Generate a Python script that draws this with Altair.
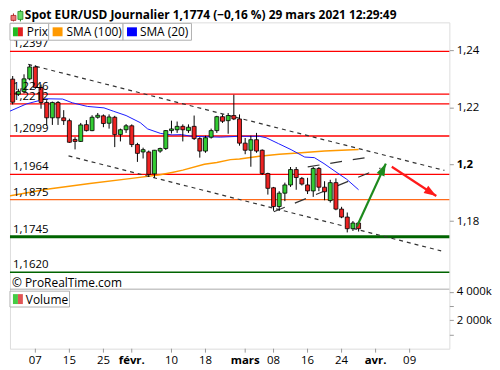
import math
import altair as alt
import pandas as pd

FONT = "Open Sans"

# ---------------- data (trading-day index, 0 = 4 Jan 2021) ----------------
day_idx = list(range(-1, 61))
opens = [1.2299, 1.2246, 1.2255, 1.2300, 1.2342, 1.2270, 1.2217, 1.2163, 1.2217, 1.2163,
         1.2153, 1.2087, 1.2080, 1.2139, 1.2118, 1.2165, 1.2170, 1.2144, 1.2165, 1.2104,
         1.2121, 1.2135, 1.2069, 1.2043, 1.2043, 1.1966, 1.2046, 1.2055, 1.2118, 1.2121,
         1.2133, 1.2118, 1.2133, 1.2090, 1.2046, 1.2095, 1.2118, 1.2167, 1.2153, 1.2171,
         1.2159, 1.2074, 1.2049, 1.2086, 1.2049, 1.1967, 1.1917, 1.1851, 1.1898, 1.1927,
         1.1981, 1.1950, 1.1927, 1.1906, 1.1985, 1.1919, 1.1872, 1.1935, 1.1842, 1.1814,
         1.1773, 1.1793]
highs = [1.2310, 1.2265, 1.2316, 1.2350, 1.2348, 1.2280, 1.2225, 1.2220, 1.2222, 1.2190,
         1.2160, 1.2095, 1.2145, 1.2155, 1.2172, 1.2180, 1.2175, 1.2175, 1.2170, 1.2125,
         1.2141, 1.2140, 1.2075, 1.2058, 1.2048, 1.2050, 1.2058, 1.2120, 1.2153, 1.2150,
         1.2140, 1.2140, 1.2171, 1.2095, 1.2100, 1.2125, 1.2170, 1.2175, 1.2180, 1.2244,
         1.2175, 1.2092, 1.2100, 1.2110, 1.2052, 1.1970, 1.1920, 1.1905, 1.1935, 1.1990,
         1.1990, 1.1955, 1.1952, 1.1990, 1.1990, 1.1940, 1.1945, 1.1950, 1.1850, 1.1830,
         1.1800, 1.1797]
lows = [1.2210, 1.2240, 1.2250, 1.2295, 1.2265, 1.2195, 1.2135, 1.2138, 1.2138, 1.2138,
        1.2075, 1.2052, 1.2078, 1.2115, 1.2116, 1.2160, 1.2130, 1.2125, 1.2060, 1.2080,
        1.2110, 1.2060, 1.2008, 1.2020, 1.1955, 1.1952, 1.2040, 1.2050, 1.2108, 1.2110,
        1.2080, 1.2110, 1.2085, 1.2023, 1.2040, 1.2090, 1.2110, 1.2145, 1.2107, 1.2155,
        1.2065, 1.2035, 1.1991, 1.2040, 1.1962, 1.1893, 1.1836, 1.1836, 1.1870, 1.1920,
        1.1910, 1.1925, 1.1895, 1.1885, 1.1905, 1.1873, 1.1865, 1.1838, 1.1810, 1.1760,
        1.1765, 1.1763]
closes = [1.2218, 1.2256, 1.2300, 1.2342, 1.2270, 1.2217, 1.2163, 1.2217, 1.2163, 1.2153,
          1.2077, 1.2080, 1.2138, 1.2118, 1.2165, 1.2172, 1.2143, 1.2166, 1.2104, 1.2121,
          1.2135, 1.2069, 1.2038, 1.2051, 1.1964, 1.2049, 1.2055, 1.2118, 1.2124, 1.2133,
          1.2121, 1.2130, 1.2090, 1.2046, 1.2093, 1.2118, 1.2167, 1.2151, 1.2171, 1.2159,
          1.2074, 1.2049, 1.2086, 1.2046, 1.1967, 1.1915, 1.1851, 1.1898, 1.1927, 1.1981,
          1.1953, 1.1930, 1.1906, 1.1985, 1.1919, 1.1903, 1.1935, 1.1842, 1.1814, 1.1773,
          1.1793, 1.1773]

sma20_i = [-2.0, 1.45, 4.9, 7.8, 9.5, 12.2, 15.1, 16.8, 19.0, 21.5, 22.8, 25.1, 27.1,
           28.8, 30.5, 35.6, 39.0, 42.5, 43.7, 45.9, 48.1, 50.5, 52.2, 53.9, 56.2, 57.9, 60.0]
sma20_v = [1.2182, 1.2212, 1.2230, 1.2229, 1.2216, 1.2203, 1.2198, 1.2186, 1.2171, 1.2146,
           1.2124, 1.2108, 1.2103, 1.2104, 1.2098, 1.2095, 1.2098, 1.2098, 1.2093, 1.2072,
           1.2051, 1.2025, 1.2023, 1.2002, 1.1970, 1.1947, 1.1910]

sma100_i = [-2.0, 5.0, 12.6, 20.0, 25.0, 27.1, 29.0, 32.8, 35.0, 37.4, 39.0, 42.5, 46.0,
            49.3, 54.0, 60.0]
sma100_v = [1.1887, 1.1912, 1.1932, 1.1950, 1.1963, 1.1971, 1.1979, 1.2000, 1.2006,
            1.2016, 1.2018, 1.2028, 1.2035, 1.2039, 1.2046, 1.2052]

level_v = [1.2397, 1.2246, 1.2212, 1.2099, 1.1964, 1.1875, 1.1745, 1.1620]
level_lab = ["1,2397", "1,2246", "1,2212", "1,2099", "1,1964", "1,1875", "1,1745", "1,1620"]
level_kind = ["res", "res", "res", "res", "res", "pivot", "sup", "sup2"]

# short-dash channel lines
chan_id = ["haut", "haut", "bas", "bas"]
chan_i = [1.74, 75.13, 8.85, 74.56]
chan_p = [1.2351, 1.1978, 1.2029, 1.1695]

# long-dash rising lines
flag_id = ["f1", "f1", "f2", "f2"]
flag_i = [45.04, 63.85, 51.03, 61.6]
flag_p = [1.18325, 1.19860, 1.19905, 1.20240]

# arrows (start -> end)
arrow_id = ["hausse", "baisse"]
arrow_i0 = [59.7, 65.85]
arrow_p0 = [1.1781, 1.1991]
arrow_i1 = [64.8, 73.7]
arrow_p1 = [1.2002, 1.1888]

xtick_i = [3, 9, 15, 20, 27, 33, 40, 45, 51, 57, 63, 69]
xtick_lab = ["07", "15", "25", "févr.", "10", "18", "mars", "08", "16", "24", "avr.", "09"]
xtick_bold = [False, False, False, True, False, False, True, False, False, False, True, False]

price_ticks = [1.18, 1.2, 1.22, 1.24]
volume_ticks = [1000, 2000, 3000, 4000]

title_txt = "Spot EUR/USD Journalier 1,1774 (\u22120,16 %) 29 mars 2021 12:29:49"
legend_txt = ["Prix", "SMA (100)", "SMA (20)"]

# ---------------- styles ----------------
LEVEL_COLOR = {"res": "#ff0000", "pivot": "#ff6a1a", "sup": "#006400", "sup2": "#006400"}
LEVEL_WIDTH = {"res": 1.3, "pivot": 1.3, "sup": 3, "sup2": 1.5}
ARROW_COLOR = {"hausse": "#1d8a1d", "baisse": "#ff1a1a"}
GREEN, RED = "#33cc33", "#ee2222"

# ---------------- scales / geometry ----------------
W, H = 443, 329
PRICE_H = 269
X_DOM = [-0.6, 75.13]
P_DOM = [1.15604, 1.24987]
V_DOM = [0, 4200]

xs = alt.Scale(domain=X_DOM, nice=False, zero=False)
ps = alt.Scale(domain=P_DOM, range=[PRICE_H, 0], nice=False, zero=False)
vs = alt.Scale(domain=V_DOM, range=[H, PRICE_H], nice=False, zero=False)

candles = pd.DataFrame({"i": day_idx, "o": opens, "h": highs, "l": lows, "c": closes})
levels = pd.DataFrame({"v": level_v, "lab": level_lab, "kind": level_kind})
levels["col"] = levels["kind"].map(LEVEL_COLOR)
levels["w"] = levels["kind"].map(LEVEL_WIDTH)
sma20 = pd.DataFrame({"i": sma20_i, "v": sma20_v})
sma100 = pd.DataFrame({"i": sma100_i, "v": sma100_v})
chan = pd.DataFrame({"id": chan_id, "i": chan_i, "p": chan_p})
flag = pd.DataFrame({"id": flag_id, "i": flag_i, "p": flag_p})
xticks = pd.DataFrame({"i": xtick_i, "lab": xtick_lab, "b": xtick_bold})

px_per_i = W / (X_DOM[1] - X_DOM[0])
px_per_p = PRICE_H / (P_DOM[1] - P_DOM[0])
angles = []
for a in range(2):
    dx = (arrow_i1[a] - arrow_i0[a]) * px_per_i
    dy_up = (arrow_p1[a] - arrow_p0[a]) * px_per_p
    angles.append((math.degrees(math.atan2(dx, dy_up))) % 360)
arrows = pd.DataFrame({"id": arrow_id, "i0": arrow_i0, "p0": arrow_p0,
                       "i1": arrow_i1, "p1": arrow_p1, "ang": angles})
arrows["col"] = arrows["id"].map(ARROW_COLOR)

sep = pd.DataFrame({"v": [V_DOM[1]]})

p_axis = alt.Axis(
    orient="right", values=price_ticks,
    labelExpr="replace(format(datum.value, '.2~f'), '.', ',')",
    labelFontWeight={"condition": {"test": "abs(datum.value - 1.2) < 1e-9", "value": "bold"},
                     "value": "normal"},
    title=None, grid=False, domain=False, tickSize=4, tickColor="#999",
    labelFont=FONT, labelFontSize=11.5, labelColor="black", labelPadding=3,
)
v_axis = alt.Axis(
    orient="right", values=volume_ticks,
    labelExpr="datum.value % 2000 == 0 ? format(datum.value / 1000, 'd') + ' 000k' : ''",
    title=None, grid=False, domain=False, tickSize=4, tickColor="#999",
    labelFont=FONT, labelFontSize=11.5, labelColor="black", labelPadding=3,
)

X = lambda f: alt.X(f, scale=xs, axis=None)
PY = lambda f, ax=None: alt.Y(f, scale=ps, axis=ax)

# ---------------- layers ----------------
level_rules = alt.Chart(levels).mark_rule().encode(
    y=PY("v:Q", p_axis), color=alt.Color("col:N", scale=None),
    strokeWidth=alt.StrokeWidth("w:Q", scale=None))
level_text = alt.Chart(levels).mark_text(
    align="left", baseline="bottom", dy=-2, font=FONT, fontSize=11.5, color="black"
).encode(x=alt.value(3), y=PY("v:Q"), text="lab:N")

sma100_line = alt.Chart(sma100).mark_line(color="#ff9900", strokeWidth=1.5, clip=True).encode(
    x=X("i:Q"), y=PY("v:Q"))
sma20_line = alt.Chart(sma20).mark_line(color="#1a1aff", strokeWidth=1, clip=True).encode(
    x=X("i:Q"), y=PY("v:Q"))

chan_lines = alt.Chart(chan).mark_line(color="#333333", strokeWidth=1.2, strokeDash=[4, 4],
                                       clip=True).encode(
    x=X("i:Q"), y=PY("p:Q"), detail="id:N")
flag_lines = alt.Chart(flag).mark_line(color="#333333", strokeWidth=1.2, strokeDash=[12, 11],
                                       clip=True).encode(
    x=X("i:Q"), y=PY("p:Q"), detail="id:N")

wicks = alt.Chart(candles).mark_rule(color="black", strokeWidth=1, clip=True).encode(
    x=X("i:Q"), y=PY("l:Q"), y2="h:Q")
bodies = alt.Chart(candles).mark_bar(size=4, stroke="black", strokeWidth=0.8, clip=True).encode(
    x=X("i:Q"), y=PY("o:Q"), y2="c:Q",
    color=alt.condition("datum.c >= datum.o", alt.value(GREEN), alt.value(RED)))

arrow_shaft = alt.Chart(arrows).mark_rule(strokeWidth=2.2).encode(
    x=X("i0:Q"), x2="i1:Q", y=PY("p0:Q"), y2="p1:Q", color=alt.Color("col:N", scale=None))
arrow_head = alt.Chart(arrows).mark_point(
    shape="M0,0L0.62,1.8L-0.62,1.8Z", filled=True, size=190, opacity=1).encode(
    x=X("i1:Q"), y=PY("p1:Q"), angle=alt.Angle("ang:Q", scale=None),
    color=alt.Color("col:N", scale=None))

separator = alt.Chart(sep).mark_rule(color="#aaaaaa", strokeWidth=1).encode(
    y=alt.Y("v:Q", scale=vs, axis=v_axis))

# x axis drawn from tick data (through the x scale): ticks + labels below the view
x_ticks = alt.Chart(xticks).mark_rule(color="#999999", strokeWidth=1).encode(
    x=X("i:Q"), y=alt.value(H), y2=alt.value(H + 4))
x_labels_n = alt.Chart(xticks).transform_filter("!datum.b").mark_text(
    baseline="top", font=FONT, fontSize=11.5, color="black").encode(
    x=X("i:Q"), y=alt.value(H + 6), text="lab:N")
x_labels_b = alt.Chart(xticks).transform_filter("datum.b").mark_text(
    baseline="top", font=FONT, fontSize=11.5, fontWeight="bold", color="black").encode(
    x=X("i:Q"), y=alt.value(H + 6), text="lab:N")

# decorations (legend boxes, icons, title, copyright)
base = alt.Chart(pd.DataFrame({"k": [0]}))


def box(x0, x1, y0, y1, fill, stroke=None, sw=1):
    kw = dict(fill=fill)
    if stroke:
        kw.update(stroke=stroke, strokeWidth=sw)
    return base.mark_rect(**kw).encode(x=alt.value(x0), x2=alt.value(x1),
                                       y=alt.value(y0), y2=alt.value(y1))


def label(txt, x, y, weight="normal", size=12):
    return base.mark_text(text=txt, align="left", baseline="middle", font=FONT,
                          fontSize=size, fontWeight=weight, color="black").encode(
        x=alt.value(x), y=alt.value(y))


deco = [
    # price legend row
    box(0, 39, 1, 18, "white", "#b0b0b0"),
    box(39, 114, 1, 18, "white", "#b0b0b0"),
    box(114, 183, 1, 18, "white", "#b0b0b0"),
    box(3, 8, 5, 14, "#22bb22"), box(8, 13, 5, 14, "#e02020"),
    box(43, 53, 5, 14, "#ff9900"),
    box(118, 128, 5, 14, "#0000ff"),
    label(legend_txt[0], 17, 10), label(legend_txt[1], 57, 10), label(legend_txt[2], 131, 10),
    # volume legend
    box(0, 60, 271, 287, "white", "#b0b0b0"),
    box(3, 8, 274, 284, "#44cc44"), box(8, 13, 274, 284, "#e05555"),
    label("Volume", 16, 279.5),
    # copyright
    label("\u00a9 ProRealTime.com", 2, 263),
    # title icon + title
    base.mark_rule(color="#aa2222").encode(x=alt.value(3.5), y=alt.value(-9), y2=alt.value(-1)),
    box(1, 6, -7, -2, "#ee7777", "#aa2222", 0.8),
    base.mark_rule(color="#228822").encode(x=alt.value(10.5), y=alt.value(-12.5), y2=alt.value(-1)),
    box(8, 13, -11, -3, "#66dd66", "#228822", 0.8),
    label(title_txt, 15, -7, weight="bold", size=12),
]

chart = alt.layer(
    level_rules, sma100_line, sma20_line, chan_lines, flag_lines,
    wicks, bodies, arrow_shaft, arrow_head, level_text, separator,
    x_ticks, x_labels_n, x_labels_b, *deco
).resolve_scale(y="independent").properties(
    width=W, height=H,
    padding=0,
).configure_view(stroke="#aaaaaa", strokeWidth=1).configure(background="white")

chart.save("out.html", embed_options={"renderer": "svg", "actions": False})
